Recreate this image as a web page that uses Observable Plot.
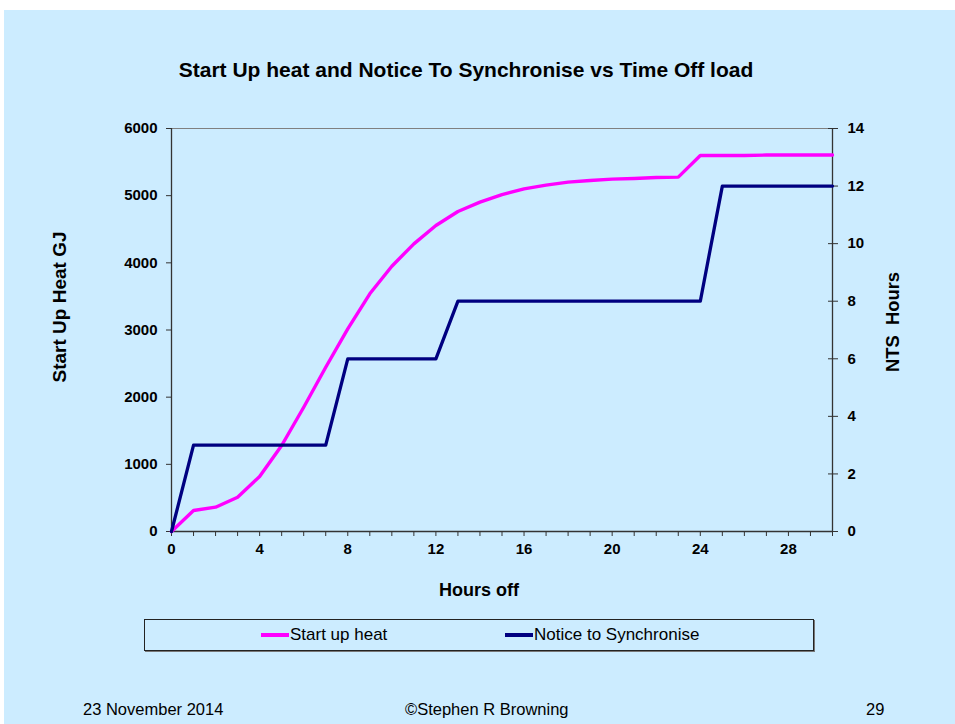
<!DOCTYPE html>
<html>
<head>
<meta charset="utf-8">
<script src="https://cdn.jsdelivr.net/npm/d3@7"></script>
<script src="https://cdn.jsdelivr.net/npm/@observablehq/plot@0.6"></script>
<style>
  html, body { margin: 0; padding: 0; background: #ffffff; }
  #page { position: relative; width: 955px; height: 724px; background: #ffffff; overflow: hidden;
          font-family: "Liberation Sans", Arial, sans-serif; color: #000; }
  #bg { position: absolute; left: 4px; top: 10px; right: 0; bottom: 0; background: #CCECFF; }
  #chart { position: absolute; left: 0; top: 0; }
  .abs { position: absolute; white-space: nowrap; }
  #title { left: 466px; top: 70px; font-weight: bold; font-size: 21px; transform: translate(-50%,-50%); }
  #ylab { left: 60px; top: 307px; font-weight: bold; font-size: 19px; transform: translate(-50%,-50%) rotate(-90deg); }
  #y2lab { left: 893px; top: 322px; font-weight: bold; font-size: 18.4px; transform: translate(-50%,-50%) rotate(-90deg); }
  #xlab { left: 479px; top: 590px; font-weight: bold; font-size: 18px; transform: translate(-50%,-50%); }
  #legend { left: 144px; top: 619px; width: 668px; height: 30px; border: 1px solid #222;
            box-shadow: 1px 1px 0 #777; }
  .item { position: absolute; top: 4px; font-size: 17px; display: flex; align-items: center; height: 22px; }
  .sw { display: inline-block; width: 28px; height: 4px; margin-right: 1px; }
  .foot { top: 700px; font-size: 16.5px; }
</style>
</head>
<body>
<div id="page">
  <div id="bg"></div>
  <div id="chart"></div>
  <div id="title" class="abs">Start Up heat and Notice To Synchronise vs Time Off load</div>
  <div id="ylab" class="abs">Start Up Heat GJ</div>
  <div id="y2lab" class="abs">NTS&nbsp; Hours</div>
  <div id="xlab" class="abs">Hours off</div>
  <div id="legend" class="abs"></div>
  <div class="abs foot" style="left:83px">23 November 2014</div>
  <div class="abs foot" style="left:405px">©Stephen R Browning</div>
  <div class="abs foot" style="left:866px">29</div>
</div>
<script>
// ---- data ----
const hours = [0,1,2,3,4,5,6,7,8,9,10,11,12,13,14,15,16,17,18,19,20,21,22,23,24,25,26,27,28,29,30];
const startUpHeat = [0,313,362,511,819,1280,1850,2446,3017,3539,3950,4283,4556,4764,4903,5017,5102,5156,5201,5226,5246,5256,5270,5276,5598,5598,5598,5605,5605,5605,5605];
const ntsHours = [0,3,3,3,3,3,3,3,6,6,6,6,6,8,8,8,8,8,8,8,8,8,8,8,8,12,12,12,12,12,12];
const xTicks = d3.range(0, 31, 1);
const yTicks = [0,1000,2000,3000,4000,5000,6000];
const y2Ticks = [0,2,4,6,8,10,12,14];
const yMax = 6000, y2Max = 14;
const seriesNames = ["Start up heat", "Notice to Synchronise"];
const colors = ["#FF00FF", "#000080"];

const heatData = hours.map((h, i) => ({h, v: startUpHeat[i]}));
const ntsData = hours.map((h, i) => ({h, v: ntsHours[i]}));
const toLeft = v => v * yMax / y2Max;

const font = {fontFamily: '"Liberation Sans", Arial, sans-serif', fontSize: "15px", fontWeight: "bold"};

const chart = Plot.plot({
  width: 955,
  height: 620,
  marginLeft: 171,
  marginRight: 123,
  marginTop: 128,
  marginBottom: 89,
  style: {background: "transparent", ...font, color: "#000"},
  x: {domain: [0, 30]},
  y: {domain: [0, yMax]},
  marks: [
    Plot.ruleY([yMax], {stroke: "#808080", strokeWidth: 1}),
    Plot.axisX({ticks: xTicks, tickSize: 5, tickPadding: 7, stroke: "#333",
      tickFormat: d => (d % 4 === 0 ? String(d) : ""), label: null, fill: "#000"}),
    Plot.axisY({ticks: yTicks, anchor: "left", tickSize: 5, tickPadding: 9, stroke: "#333",
      tickFormat: d => String(d), label: null}),
    Plot.axisY({ticks: y2Ticks.map(toLeft), anchor: "right", tickSize: 5, tickPadding: 10, stroke: "#333",
      tickFormat: d => String(Math.round(d * y2Max / yMax)), label: null}),
    Plot.axisY({ticks: y2Ticks.map(toLeft), anchor: "right", tickSize: -5, text: null, stroke: "#333", label: null}),
    Plot.ruleX([0], {stroke: "#333", strokeWidth: 1.3}),
    Plot.ruleX([30], {stroke: "#333", strokeWidth: 1.3}),
    Plot.ruleY([0], {stroke: "#333", strokeWidth: 1.3}),
    Plot.line(heatData, {x: "h", y: "v", stroke: colors[0], strokeWidth: 3.4}),
    Plot.line(ntsData, {x: "h", y: d => toLeft(d.v), stroke: colors[1], strokeWidth: 3.3})
  ]
});
document.getElementById("chart").appendChild(chart);

// legend
const legend = document.getElementById("legend");
const lefts = [116, 360];
seriesNames.forEach((name, i) => {
  const it = document.createElement("div");
  it.className = "item";
  it.style.left = lefts[i] + "px";
  const sw = document.createElement("span");
  sw.className = "sw";
  sw.style.background = colors[i];
  it.appendChild(sw);
  it.appendChild(document.createTextNode(name));
  legend.appendChild(it);
});
</script>
</body>
</html>
